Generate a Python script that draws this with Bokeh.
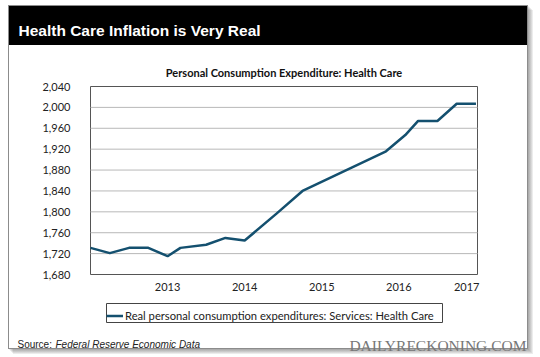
from bokeh.plotting import figure
from bokeh.models import (Range1d, FixedTicker, NumeralTickFormatter, Label,
                          Legend, LegendItem)
from bokeh.embed import file_html
from bokeh.resources import INLINE

# ---- data ----
months = ["2012-01", "2012-04", "2012-07", "2012-10", "2013-01", "2013-03",
          "2013-07", "2013-10", "2014-01", "2014-06", "2014-10", "2015-11",
          "2016-02", "2016-04", "2016-07", "2016-10", "2017-01"]
values = [1731, 1721, 1731, 1731, 1715, 1731,
          1737, 1750, 1745, 1797, 1840, 1916,
          1947, 1974, 1974, 2007, 2007]
x_tick_labels = ["2013", "2014", "2015", "2016", "2017"]
y_ticks = [1680, 1720, 1760, 1800, 1840, 1880, 1920, 1960, 2000, 2040]
series_name = "Real personal consumption expenditures: Services: Health Care"
header_text = "Health Care Inflation is Very Real"
chart_title = "Personal Consumption Expenditure: Health Care"


def frac_year(s):
    y, m = s.split("-")
    return int(y) + (int(m) - 1) / 12.0


xs = [frac_year(m) for m in months]

# ---- layout: the plotting frame fills the canvas; the chart box sits inside it ----
W, H = 540, 357
BL, BR, BT, BB = 90, 477, 86, 274        # chart box edges in canvas px
x0, x1 = 2012.0, 2017.02                 # data span of the chart box
y0, y1 = y_ticks[0], y_ticks[-1]
dx = (x1 - x0) / (BR - BL)
dy = (y1 - y0) / (BB - BT)


def px_x(px):   # canvas px -> data x
    return x0 + (px - BL) * dx


def px_y(py):   # canvas px -> data y
    return y0 - (py - BB) * dy


p = figure(width=W, height=H, output_backend="svg", toolbar_location=None, title=None,
           x_range=Range1d(px_x(0), px_x(W)), y_range=Range1d(px_y(H), px_y(0)),
           min_border=0, min_border_left=0, min_border_right=0,
           min_border_top=0, min_border_bottom=0)
p.background_fill_color = None
p.border_fill_color = None
p.outline_line_color = None

# page panel (border, black header band, drop shadow) painted behind the canvas
layers = [("#000000", 9, 6, 518, 39),      # black header band
          ("#ffffff", 9, 6, 518, 342),     # white panel
          ("#8c8c8c", 8, 5, 520, 344)]     # panel border
for k in range(1, 6):
    layers.append(("rgba(0,0,0,0.075)", 8 + k, 5 + k, 520, 344))
p.styles = {
    "background-image": ", ".join(f"linear-gradient({c},{c})" for c, *_ in layers),
    "background-position": ", ".join(f"{x}px {y}px" for _, x, y, _w, _h in layers),
    "background-size": ", ".join(f"{w}px {h}px" for *_, w, h in layers),
    "background-repeat": "no-repeat",
    "background-color": "#ffffff",
}

# chart box, grid lines and the series
p.quad(left=[x0], right=[x1], bottom=[y0], top=[y1], fill_color="white",
       line_color="#555555", line_width=1)
p.segment(x0=[x0] * (len(y_ticks) - 2), x1=[x1] * (len(y_ticks) - 2),
          y0=y_ticks[1:-1], y1=y_ticks[1:-1], line_color="#b8b8b8", line_width=1)
r = p.line(xs, values, line_color="#14506f", line_width=2.5)

# legend frame (box around the legend entry)
LG_L, LG_R, LG_T, LG_B = 106, 442, 303, 322
p.quad(left=[px_x(LG_L)], right=[px_x(LG_R)], top=[px_y(LG_T)], bottom=[px_y(LG_B)],
       fill_color="white", line_color="#444444", line_width=1)

# axes, pinned to the chart box edges
tick_pos = [float(t) for t in x_tick_labels]
tick_pos[-1] -= 0.12          # last label kept inside the box, as in the reference
p.xaxis.ticker = FixedTicker(ticks=tick_pos)
p.xaxis.major_label_overrides = {tp: lab for tp, lab in zip(tick_pos, x_tick_labels)}
p.xaxis.fixed_location = y0
p.yaxis.ticker = FixedTicker(ticks=y_ticks)
p.yaxis.formatter = NumeralTickFormatter(format="0,0")
p.yaxis.fixed_location = x0
for ax in (p.xaxis, p.yaxis):
    ax.axis_line_color = None
    ax.major_tick_line_color = None
    ax.minor_tick_line_color = None
    ax.major_tick_out = 0
    ax.major_tick_in = 0
    ax.major_label_text_font = "Lato"
    ax.major_label_text_font_size = "11px"
    ax.major_label_text_color = "#222222"
p.xaxis.major_label_standoff = 8
p.yaxis.major_label_standoff = 20
p.xgrid.visible = False
p.ygrid.visible = False

legend = Legend(items=[LegendItem(label=series_name, renderers=[r])],
                location=(LG_L, H - LG_B), orientation="horizontal")
legend.border_line_color = None
legend.background_fill_color = None
legend.background_fill_alpha = 0
legend.label_text_font = "Lato"
legend.label_text_font_size = "11.2px"
legend.label_text_color = "#222222"
legend.glyph_width = 17
legend.glyph_height = 13
legend.label_height = 13
legend.label_standoff = 2
legend.padding = 3
legend.margin = 0
legend.spacing = 0
p.add_layout(legend, "center")


def canvas_label(x, y, text, **kw):
    return Label(x=x, y=y, x_units="canvas", y_units="canvas", text=text,
                 text_baseline="alphabetic", **kw)


for lab in [
    canvas_label(18, 30, header_text, text_font="Liberation Sans",
                 text_font_style="bold", text_font_size="15.5px", text_color="white"),
    canvas_label((BL + BR) / 2, 72, chart_title, text_font="Lato",
                 text_font_style="bold", text_font_size="11px",
                 text_color="#111111", text_align="center"),
    canvas_label(17, 344, "Source:", text_font="Liberation Sans",
                 text_font_size="10px", text_color="#222222"),
    canvas_label(55, 344, "Federal Reserve Economic Data",
                 text_font="Liberation Sans", text_font_style="italic",
                 text_font_size="10px", text_color="#222222"),
    canvas_label(526, 345, "DAILYRECKONING.COM", text_font="Liberation Serif",
                 text_font_size="15.5px", text_color="#777777", text_align="right"),
]:
    p.add_layout(lab, "center")

open("out.html", "w").write(file_html(p, INLINE))
